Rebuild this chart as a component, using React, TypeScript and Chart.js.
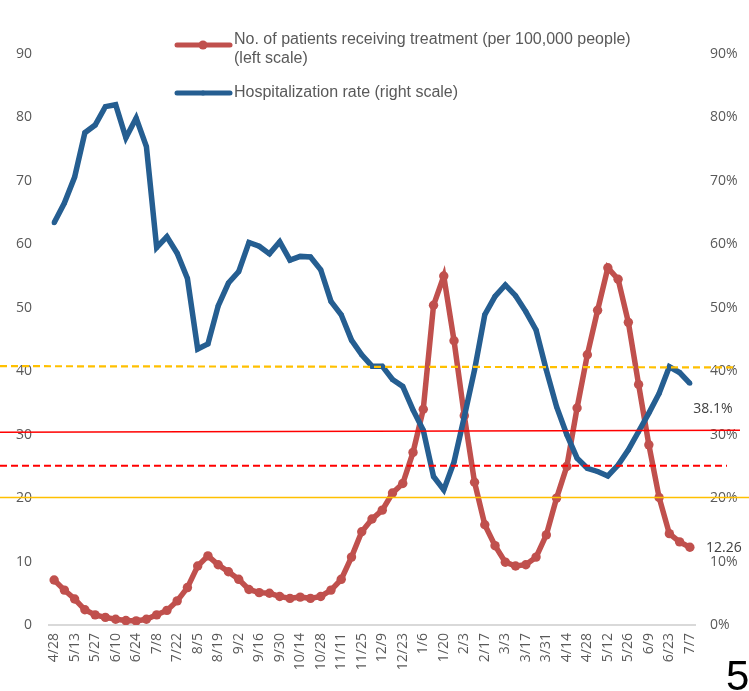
import React, { useEffect, useRef } from 'react';
import { Chart, registerables } from 'chart.js';

Chart.register(...registerables);

// ---------- data ----------
const categories = [
  '4/28', '5/6', '5/13', '5/20', '5/27', '6/3', '6/10', '6/17', '6/24', '7/1',
  '7/8', '7/15', '7/22', '7/29', '8/5', '8/12', '8/19', '8/26', '9/2', '9/9',
  '9/16', '9/23', '9/30', '10/7', '10/14', '10/21', '10/28', '11/4', '11/11', '11/18',
  '11/25', '12/2', '12/9', '12/16', '12/23', '12/30', '1/6', '1/13', '1/20', '1/27',
  '2/3', '2/10', '2/17', '2/24', '3/3', '3/10', '3/17', '3/24', '3/31', '4/7',
  '4/14', '4/21', '4/28', '5/5', '5/12', '5/19', '5/26', '6/2', '6/9', '6/16',
  '6/23', '6/30', '7/7',
];

const patientsPer100k = [
  7.1, 5.5, 4.1, 2.4, 1.6, 1.2, 0.9, 0.7, 0.65, 0.9,
  1.6, 2.3, 3.8, 5.9, 9.3, 10.9, 9.5, 8.4, 7.2, 5.6,
  5.1, 5.0, 4.5, 4.2, 4.4, 4.2, 4.5, 5.5, 7.2, 10.7,
  14.7, 16.7, 18.1, 20.8, 22.3, 27.2, 34.0, 50.4, 55.0, 44.8,
  33.0, 22.5, 15.8, 12.5, 9.9, 9.3, 9.5, 10.7, 14.2, 20.0,
  25.0, 34.2, 42.6, 49.6, 56.3, 54.5, 47.7, 37.9, 28.4, 20.1,
  14.4, 13.1, 12.26,
];

const hospitalizationRate = [
  63.4, 66.5, 70.6, 77.6, 78.8, 81.7, 82.0, 76.8, 79.9, 75.4,
  59.5, 61.2, 58.6, 54.6, 43.5, 44.3, 50.3, 53.9, 55.7, 60.3,
  59.7, 58.5, 60.4, 57.5, 58.1, 58.0, 56.0, 51.0, 48.9, 44.9,
  42.6, 40.8, 40.8, 38.7, 37.6, 33.9, 30.7, 23.4, 21.3, 25.7,
  32.8, 40.2, 48.9, 51.8, 53.6, 51.9, 49.4, 46.5, 40.2, 34.4,
  30.0, 26.3, 24.7, 24.2, 23.5, 25.2, 27.6, 30.5, 33.4, 36.5,
  40.7, 39.8, 38.1,
];

const axisMin = 0;
const axisMax = 90;
const axisStep = 10;

// reference levels (left-scale units) at line start / line end
const referenceLevelsStart = [40.8, 30.4, 25.1, 20.1];
const referenceLevelsEnd = [40.6, 30.7, 25.1, 20.1];

const seriesNames = [
  ['No. of patients receiving treatment (per 100,000 people)', '(left scale)'],
  ['Hospitalization rate (right scale)'],
];
const pageNumber = '5';

// ---------- styles ----------
const RED = '#C0504D';
const BLUE = '#255E91';
const TICK_COLOR = '#595959';
const TICK_FONT = { family: '"Open Sans", sans-serif', size: 14 };

const refStyles = [
  { color: '#FFC000', width: 2.2, dash: [7, 4], x0: 0, x1: 737 },
  { color: '#FF0000', width: 1.5, dash: [], x0: 0, x1: 740 },
  { color: '#FF0000', width: 2.2, dash: [7, 4], x0: 0, x1: 727 },
  { color: '#FFC000', width: 1.5, dash: [], x0: 0, x1: 749 },
];

const overlayPlugin = {
  id: 'overlay',
  afterDatasetsDraw(chart: any) {
    const ctx = chart.ctx;
    const y = chart.scales.y;
    ctx.save();
    refStyles.forEach((s, i) => {
      ctx.beginPath();
      ctx.strokeStyle = s.color;
      ctx.lineWidth = s.width;
      ctx.setLineDash(s.dash);
      ctx.moveTo(s.x0, y.getPixelForValue(referenceLevelsStart[i]));
      ctx.lineTo(s.x1, y.getPixelForValue(referenceLevelsEnd[i]));
      ctx.stroke();
    });
    ctx.setLineDash([]);

    // end-point data labels
    const last = categories.length - 1;
    const redPt = chart.getDatasetMeta(0).data[last];
    const bluePt = chart.getDatasetMeta(1).data[last];
    ctx.fillStyle = '#404040';
    ctx.font = '14px "Open Sans", sans-serif';
    ctx.textAlign = 'center';
    ctx.textBaseline = 'middle';
    ctx.fillText(`${hospitalizationRate[last]}%`, bluePt.x + 23, bluePt.y + 26);
    ctx.fillText(`${patientsPer100k[last]}`, redPt.x + 34, redPt.y + 1);

    // legend
    const legendItems = [
      { color: RED, y: 45, r: 4.5, textY: 40 },
      { color: BLUE, y: 93, r: 2.5, textY: 93 },
    ];
    legendItems.forEach((it, i) => {
      ctx.beginPath();
      ctx.strokeStyle = it.color;
      ctx.lineWidth = 5;
      ctx.lineCap = 'round';
      ctx.moveTo(177, it.y);
      ctx.lineTo(230, it.y);
      ctx.stroke();
      ctx.beginPath();
      ctx.fillStyle = it.color;
      ctx.arc(203, it.y, it.r, 0, Math.PI * 2);
      ctx.fill();
      ctx.fillStyle = TICK_COLOR;
      ctx.font = '16px "Liberation Sans", Arial, sans-serif';
      ctx.textAlign = 'left';
      ctx.textBaseline = 'middle';
      seriesNames[i].forEach((line, j) => {
        ctx.fillText(line, 234, it.textY + j * 19);
      });
    });

    // page number
    ctx.fillStyle = '#000000';
    ctx.font = '42px "Liberation Sans", Arial, sans-serif';
    ctx.textAlign = 'left';
    ctx.textBaseline = 'alphabetic';
    ctx.fillText(pageNumber, 726, 690);
    ctx.restore();
  },
};

export default function App() {
  const canvasRef = useRef<HTMLCanvasElement | null>(null);

  useEffect(() => {
    if (!canvasRef.current) return;
    const chart = new Chart(canvasRef.current, {
      type: 'line',
      data: {
        labels: categories,
        datasets: [
          {
            label: seriesNames[0].join(' '),
            data: patientsPer100k,
            yAxisID: 'y',
            borderColor: RED,
            backgroundColor: RED,
            borderWidth: 5.5,
            pointRadius: 4.7,
            pointBorderWidth: 0,
            pointBackgroundColor: RED,
            tension: 0,
            order: 2,
          },
          {
            label: seriesNames[1][0],
            data: hospitalizationRate,
            yAxisID: 'y1',
            borderColor: BLUE,
            backgroundColor: BLUE,
            borderWidth: 5.5,
            pointRadius: 2.5,
            pointBorderWidth: 0,
            pointBackgroundColor: BLUE,
            tension: 0,
            order: 1,
          },
        ],
      },
      options: {
        responsive: true,
        maintainAspectRatio: false,
        animation: false,
        layout: { padding: { top: 54, left: 0, right: 0, bottom: 0 } },
        plugins: {
          legend: { display: false },
          tooltip: { enabled: false },
        },
        scales: {
          x: {
            offset: true,
            grid: { display: false, drawTicks: false },
            border: { display: true, color: '#D9D9D9', width: 2 },
            ticks: {
              autoSkip: false,
              minRotation: 90,
              maxRotation: 90,
              padding: 8,
              color: TICK_COLOR,
              font: TICK_FONT,
              callback: (_v: any, i: number) => (i % 2 === 0 ? categories[i] : ''),
            },
            afterFit: (s: any) => { s.height = 66; },
          },
          y: {
            position: 'left',
            min: axisMin,
            max: axisMax,
            grid: { display: false, drawTicks: false },
            border: { display: false },
            ticks: { stepSize: axisStep, padding: 17, color: TICK_COLOR, font: TICK_FONT },
            afterFit: (s: any) => { s.width = 49; },
          },
          y1: {
            position: 'right',
            min: axisMin,
            max: axisMax,
            grid: { display: false, drawTicks: false },
            border: { display: false },
            ticks: {
              stepSize: axisStep,
              padding: 15,
              color: TICK_COLOR,
              font: TICK_FONT,
              callback: (v: any) => `${v}%`,
            },
            afterFit: (s: any) => { s.width = 54; },
          },
        },
      },
      plugins: [overlayPlugin],
    });
    return () => chart.destroy();
  }, []);

  return (
    <div style={{ position: 'fixed', left: 0, top: 0, width: 749, height: 691, background: '#fff' }}>
      <canvas ref={canvasRef} />
    </div>
  );
}
